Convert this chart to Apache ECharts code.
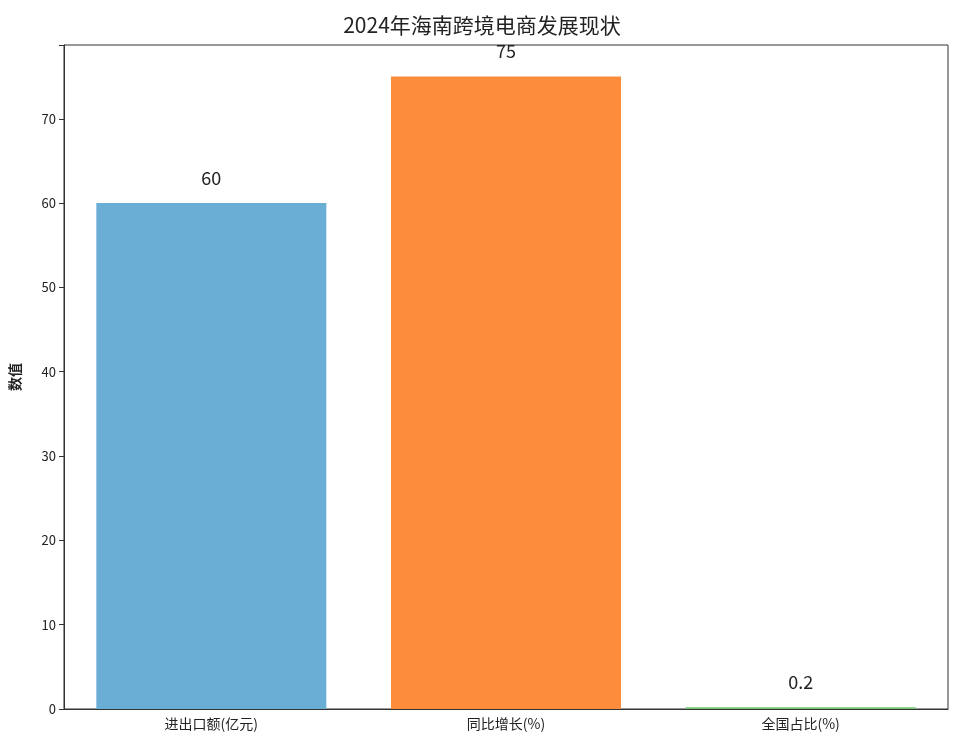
<!DOCTYPE html>
<html><head><meta charset="utf-8">
<script src="https://cdn.jsdelivr.net/npm/echarts@6/dist/echarts.min.js"></script>
<style>html,body{margin:0;background:#fff}#c{width:964px;height:752px}</style>
</head><body><div id="c"></div>
<script>
const categories = ['进出口额(亿元)', '同比增长(%)', '全国占比(%)'];
const values = [60, 75, 0.2];
const colors = ['#6aaed6', '#fd8d3c', '#74c476'];
const yTicks = [0, 10, 20, 30, 40, 50, 60, 70];
const font = '"Noto Sans CJK SC", "DejaVu Sans", sans-serif';
const chart = echarts.init(document.getElementById('c'));
chart.setOption({
  animation: false,
  title: { text: '2024年海南跨境电商发展现状', left: 'center', top: 10,
    textStyle: { fontFamily: font, fontSize: 21, fontWeight: 'normal', color: '#222' } },
  grid: { left: 62, right: 16, top: 45, bottom: 43, show: true, borderColor: '#333', borderWidth: 1 },
  xAxis: { type: 'category', data: categories,
    axisLine: { lineStyle: { color: '#333' } }, axisTick: { alignWithLabel: true, lineStyle: { color: '#333' } },
    axisLabel: { fontFamily: font, fontSize: 14, color: '#222' } },
  yAxis: { type: 'value', min: 0, max: 78.75, interval: 10, name: '数值', nameLocation: 'middle', nameGap: 42,
    nameTextStyle: { fontFamily: font, fontSize: 14, fontWeight: 'bold', color: '#222' },
    axisLine: { show: true, lineStyle: { color: '#333' } }, axisTick: { show: true, lineStyle: { color: '#333' } },
    splitLine: { show: false },
    axisLabel: { fontFamily: font, fontSize: 13, color: '#222',
      formatter: v => yTicks.includes(v) ? String(v) : '' } },
  series: [{ type: 'bar', barWidth: 230,
    data: values.map((v, i) => ({ value: v, itemStyle: { color: colors[i] } })),
    label: { show: true, position: 'top', distance: 16, fontFamily: font, fontSize: 18, color: '#222' } }]
});
</script></body></html>
